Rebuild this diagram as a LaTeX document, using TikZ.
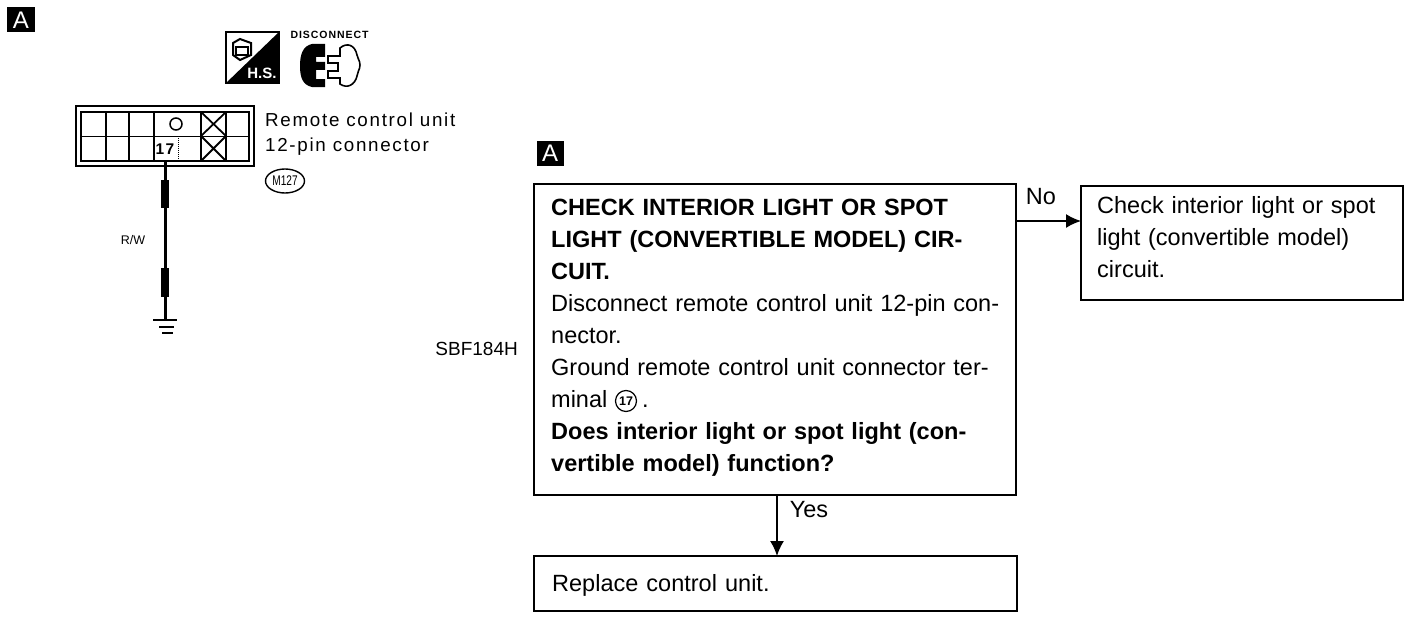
\documentclass[tikz,border=0pt]{standalone}
\usepackage{fontspec}
\setmainfont[WordSpace=1.24]{Liberation Sans}
\newfontfamily\pinfont[LetterSpace=9]{Liberation Sans}
\usetikzlibrary{shapes,arrows,arrows.meta}
\newcommand{\boxtext}{\fontsize{23.5}{32}\selectfont}
\newcommand{\pintext}{\pinfont\fontsize{18.8}{25}\selectfont}

\begin{document}
\begin{tikzpicture}[x=1pt,y=-1pt,auto]
	\tikzset{flowbox/.style = {shape=rectangle,draw,line width=2pt,inner sep=0pt,outer sep=0pt}}

	\tikzset{flowtext/.style = {inner sep=0pt,anchor=north west,align=left,font=\boxtext}}

	\tikzset{badge/.style = {shape=rectangle,fill=black,text=white,inner sep=0pt,font=\fontsize{24}{24}\selectfont}}

	\tikzset{flow/.style = {-{Latex[length=15pt,width=14pt]},line width=1.6pt}}

	\tikzset{cell/.style = {line width=1.8pt}}

	\useasboundingbox (0,0) rectangle (1424,618);

	% badges

	\node[badge,minimum width=28pt,minimum height=25pt] (tagleft) at (21,20) {A};

	\node[badge,minimum width=27pt,minimum height=25pt] (tagright) at (550,153) {A};

	% flow boxes

	\node[flowbox,minimum width=482pt,minimum height=311pt] (check) at (775,339.5) {};

	\node[flowbox,minimum width=322pt,minimum height=114pt] (other) at (1242,243) {};

	\node[flowbox,minimum width=483pt,minimum height=55pt] (replace) at (775.5,583.5) {};

	\node[flowtext,text width=470pt] (checktext) at (551,199) {\textbf{CHECK INTERIOR LIGHT OR SPOT}\\
		\textbf{LIGHT (CONVERTIBLE MODEL) CIR-}\\
		\textbf{CUIT.}\\
		Disconnect remote control unit 12-pin con-\\
		nector.\\
		Ground remote control unit connector ter-\\
		minal \hspace{27pt}.\\
		\textbf{Does interior light or spot light (con-}\\
		\textbf{vertible model) function?}};

	\node[draw,shape=circle,line width=1.2pt,inner sep=0pt,minimum size=21pt,font=\bfseries\fontsize{12.5}{12}\selectfont] (pinmark) at (626,401) {17};

	\node[flowtext,text width=310pt] (othertext) at (1097,196) {Check interior light or spot\\
		light (convertible model)\\
		circuit.};

	\node[flowtext] (replacetext) at (552,574) {Replace control unit.};

	\node[font=\boxtext] (nolabel) at (1041,197) {No};

	\node[font=\boxtext] (yeslabel) at (809,510) {Yes};

	\node[font=\fontsize{19}{20}\selectfont,anchor=east,inner sep=0pt] (code) at (518,349) {SBF184H};

	% flow arrows

	\coordinate (noline) at (1050,221);

	\coordinate (yesline) at (777,530);

	\draw[flow] (check.east |- noline) -- (other.west |- noline);

	\draw[flow] (check.south -| yesline) -- (replace.north -| yesline);

	% connector

	\node[draw,line width=1.8pt,minimum width=178pt,minimum height=60pt,inner sep=0pt] (frame) at (165,136) {};

	\node[draw,line width=1.8pt,minimum width=168pt,minimum height=49pt,inner sep=0pt] (inner) at (165,136.5) {};

	\draw[cell] (inner.west) -- (inner.east);

	\foreach \cellx in {106,129,154,201,226}
		\draw[cell] (\cellx,112) -- (\cellx,161);

	\draw[line width=1pt,densely dotted] (178,136) -- (178,161);

	\draw[cell] (201,112) -- (226,136) (226,112) -- (201,136);

	\draw[cell] (201,136) -- (226,161) (226,136) -- (201,161);

	\node[draw,shape=circle,line width=1.5pt,inner sep=0pt,minimum size=12pt] (pinhole) at (176,124) {};

	\node[fill=white,inner sep=.5pt,font=\bfseries\pinfont\fontsize{15.5}{16}\selectfont] (pin) at (165,149) {17};

	\node[flowtext,font=\pintext,anchor=west] (unitname) at (265,134.5) {Remote control unit\\12-pin connector};

	\node[draw,shape=ellipse,line width=1.4pt,inner sep=0pt,minimum width=39pt,minimum height=24pt,font=\fontsize{14}{14}\selectfont\addfontfeature{FakeStretch=0.72}] (harness) at (285,181) {M127};

	% wire

	\coordinate (wiretop) at (165,160);

	\coordinate (earth) at (165,320);

	\draw[line width=3pt] (wiretop) -- (earth);

	\draw[line width=8pt] (165,180) -- (165,208) (165,268) -- (165,297);

	\node[font=\fontsize{12.5}{12}\selectfont] (wirename) at (133,240) {R/W};

	\draw[line width=2pt] (earth -| 153,0) -- (earth -| 177,0);

	\draw[line width=2pt] (159,327) -- (174,327);

	\draw[line width=2pt] (162,333) -- (173,333);

	% service icons

	\node[draw,line width=1.5pt,minimum width=53pt,minimum height=51pt,inner sep=0pt] (hsicon) at (252.5,57.5) {};

	\fill (hsicon.north east) -- (hsicon.south east) -- (hsicon.south west) -- cycle;

	\node[text=white,font=\bfseries\fontsize{15}{15}\selectfont] (hslabel) at (262,73) {H.S.};

	\draw[line width=2pt,fill=white] (233,43) -- (240,39) -- (251,43) -- (251,55) -- (240,60) -- (233,55) -- cycle;

	\draw[line width=1.2pt] (236,47) rectangle (248,55);

	\node[font=\bfseries\fontsize{10.5}{10}\selectfont] (disconnect) at (329.5,35) {\pinfont DISCONNECT};

	\fill (325,44) -- (312,44) .. controls (303,46) and (300,54) .. (300,66) .. controls (300,78) and (303,85) .. (312,87) -- (325,87) -- (325,79) -- (316,79) -- (316,70) -- (325,70) -- (325,62) -- (316,62) -- (316,57) -- (325,57) -- cycle;

	\draw[line width=1.6pt] (328,56) -- (340,56) -- (340,48) .. controls (347,42) and (355,45) .. (357,55) .. controls (357,58) and (360,60) .. (360,65) .. controls (360,70) and (357,72) .. (357,76) .. controls (355,85) and (347,89) .. (340,84) -- (340,78) -- (328,78) -- (328,71) -- (338,71) -- (338,63) -- (328,63) -- cycle;
\end{tikzpicture}
\end{document}
